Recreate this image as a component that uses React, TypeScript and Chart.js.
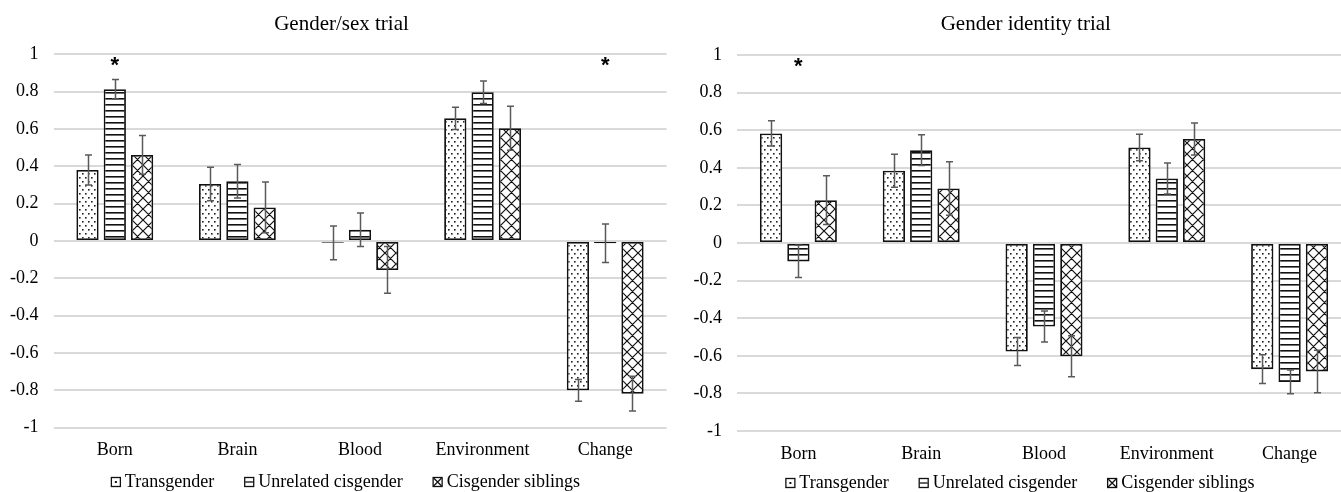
import React, { useEffect, useRef } from 'react';
import { Chart, registerables } from 'chart.js';

Chart.register(...registerables);

// ---------- data ----------
const categories = ['Born', 'Brain', 'Blood', 'Environment', 'Change'];
const seriesNames = ['Transgender', 'Unrelated cisgender', 'Cisgender siblings'];

const sexTitle = 'Gender/sex trial';
const sexTransgender = [0.38, 0.305, -0.01, 0.657, -0.8];
const sexTransgenderErr = [0.08, 0.09, 0.09, 0.06, 0.058];
const sexUnrelated = [0.813, 0.32, 0.06, 0.797, -0.012];
const sexUnrelatedErr = [0.052, 0.09, 0.09, 0.06, 0.103];
const sexSiblings = [0.461, 0.18, -0.155, 0.604, -0.818];
const sexSiblingsErr = [0.104, 0.136, 0.125, 0.118, 0.093];
const sexStars = [1, 0, 0, 0, 1]; // significance marker above "Unrelated cisgender"

const idTitle = 'Gender identity trial';
const idTransgender = [0.583, 0.384, -0.577, 0.508, -0.671];
const idTransgenderErr = [0.067, 0.088, 0.074, 0.07, 0.077];
const idUnrelated = [-0.098, 0.494, -0.444, 0.343, -0.739];
const idUnrelatedErr = [0.086, 0.082, 0.082, 0.083, 0.063];
const idSiblings = [0.228, 0.29, -0.603, 0.553, -0.683];
const idSiblingsErr = [0.13, 0.142, 0.109, 0.085, 0.113];
const idStars = [1, 0, 0, 0, 0];

const yMin = -1;
const yMax = 1;
const yStep = 0.2;
const starLevel = 0.93;

// ---------- styling helpers ----------
const FONT = '"Liberation Serif", "Times New Roman", serif';

function makePattern(ctx: CanvasRenderingContext2D, kind: number): CanvasPattern {
  const t = document.createElement('canvas');
  const g = t.getContext('2d')!;
  if (kind === 0) {
    t.width = 6;
    t.height = 8;
    g.fillStyle = '#fff';
    g.fillRect(0, 0, 6, 8);
    g.fillStyle = '#222';
    g.fillRect(1, 1, 1.6, 1.6);
    g.fillRect(4, 5, 1.6, 1.6);
  } else if (kind === 1) {
    t.width = 6;
    t.height = 6;
    g.fillStyle = '#fff';
    g.fillRect(0, 0, 6, 6);
    g.fillStyle = '#111';
    g.fillRect(0, 2, 6, 1.6);
  } else {
    const s = 11;
    t.width = s;
    t.height = s;
    g.fillStyle = '#fff';
    g.fillRect(0, 0, s, s);
    g.strokeStyle = '#111';
    g.lineWidth = 1.2;
    g.beginPath();
    for (const o of [-s, 0, s]) {
      g.moveTo(o - 2, -2);
      g.lineTo(o + s + 2, s + 2);
      g.moveTo(o - 2, s + 2);
      g.lineTo(o + s + 2, -2);
    }
    g.stroke();
  }
  return ctx.createPattern(t, 'repeat')!;
}

const errorBarsPlugin = {
  id: 'errorBars',
  afterDatasetsDraw(chart: any) {
    const ctx = chart.ctx as CanvasRenderingContext2D;
    const y = chart.scales.y;
    ctx.save();
    ctx.strokeStyle = '#5a5a5a';
    ctx.lineWidth = 1.5;
    chart.data.datasets.forEach((ds: any, i: number) => {
      const meta = chart.getDatasetMeta(i);
      meta.data.forEach((bar: any, j: number) => {
        const v = ds.data[j];
        const e = ds.errors[j];
        const y1 = y.getPixelForValue(v + e);
        const y2 = y.getPixelForValue(v - e);
        const x = Math.round(bar.x) + 0.5;
        ctx.beginPath();
        ctx.moveTo(x, y1);
        ctx.lineTo(x, y2);
        ctx.moveTo(x - 3.5, y1);
        ctx.lineTo(x + 3.5, y1);
        ctx.moveTo(x - 3.5, y2);
        ctx.lineTo(x + 3.5, y2);
        ctx.stroke();
      });
    });
    ctx.restore();
  },
};

function drawLegendIcon(ctx: CanvasRenderingContext2D, kind: number, x: number, yc: number) {
  const s = 10;
  const top = yc - s / 2;
  ctx.save();
  ctx.fillStyle = '#fff';
  ctx.fillRect(x, top, s, s);
  ctx.strokeStyle = '#111';
  ctx.lineWidth = 1.3;
  ctx.strokeRect(x + 0.5, top + 0.5, s - 1, s - 1);
  ctx.beginPath();
  if (kind === 0) {
    ctx.fillStyle = '#111';
    ctx.fillRect(x + 4, top + 4, 2, 2);
  } else if (kind === 1) {
    ctx.moveTo(x + 1, top + 5);
    ctx.lineTo(x + s - 1, top + 5);
  } else {
    ctx.moveTo(x + 1, top + 1);
    ctx.lineTo(x + s - 1, top + s - 1);
    ctx.moveTo(x + s - 1, top + 1);
    ctx.lineTo(x + 1, top + s - 1);
  }
  ctx.stroke();
  ctx.restore();
}

const decorPlugin = {
  id: 'decor',
  afterDraw(chart: any) {
    const opts = chart.options.plugins.decor;
    const ctx = chart.ctx as CanvasRenderingContext2D;
    ctx.save();
    // title
    ctx.fillStyle = '#000';
    ctx.font = `21px ${FONT}`;
    ctx.textAlign = 'center';
    ctx.textBaseline = 'middle';
    ctx.fillText(opts.title, opts.titleX, opts.titleY);

    // stars
    ctx.font = `bold 22px "Liberation Sans", Arial, sans-serif`;
    const m = ctx.measureText('*');
    const meta = chart.getDatasetMeta(1);
    const ys = chart.scales.y.getPixelForValue(starLevel);
    ctx.textBaseline = 'alphabetic';
    opts.stars.forEach((flag: number, j: number) => {
      if (!flag) return;
      const bar = meta.data[j];
      const base = ys + (m.actualBoundingBoxAscent - m.actualBoundingBoxDescent) / 2;
      ctx.fillText('*', bar.x, base);
    });

    // legend
    ctx.font = `18px ${FONT}`;
    ctx.textAlign = 'left';
    ctx.textBaseline = 'middle';
    const iconW = 10;
    const iconGap = 4;
    const itemGap = 30;
    const widths = seriesNames.map((n) => ctx.measureText(n).width);
    const total =
      widths.reduce((a, w) => a + iconW + iconGap + w, 0) + itemGap * (seriesNames.length - 1);
    let x = opts.legendX - total / 2;
    seriesNames.forEach((n, i) => {
      drawLegendIcon(ctx, i, x, opts.legendY);
      ctx.fillStyle = '#000';
      ctx.fillText(n, x + iconW + iconGap, opts.legendY);
      x += iconW + iconGap + widths[i] + itemGap;
    });
    ctx.restore();
  },
};

interface PanelProps {
  title: string;
  values: number[][];
  errors: number[][];
  stars: number[];
  width: number;
  yAxisWidth: number;
  padTop: number;
  padRight: number;
  xAxisHeight: number;
  titleX: number;
  legendX: number;
  legendY: number;
  left: number;
}

function Panel(p: PanelProps) {
  const ref = useRef<HTMLCanvasElement>(null);
  useEffect(() => {
    const canvas = ref.current!;
    const ctx = canvas.getContext('2d')!;
    const patterns = [0, 1, 2].map((k) => makePattern(ctx, k));
    const chart = new Chart(canvas, {
      type: 'bar',
      data: {
        labels: categories,
        datasets: seriesNames.map((name, i) => ({
          label: name,
          data: p.values[i],
          errors: p.errors[i],
          backgroundColor: patterns[i],
          borderColor: '#111',
          borderWidth: 1.8,
          borderSkipped: false,
          categoryPercentage: 0.668,
          barPercentage: 0.815,
        })) as any,
      },
      options: {
        responsive: false,
        animation: false,
        devicePixelRatio: 1,
        layout: { padding: { top: p.padTop, right: p.padRight, left: 0, bottom: 0 } },
        plugins: {
          legend: { display: false },
          title: { display: false },
          tooltip: { enabled: false },
          decor: {
            title: p.title,
            titleX: p.titleX,
            titleY: 24,
            legendX: p.legendX,
            legendY: p.legendY,
            stars: p.stars,
          },
        } as any,
        scales: {
          x: {
            grid: { display: false },
            border: { display: false },
            ticks: {
              color: '#000',
              font: { family: FONT, size: 18 },
              padding: 4,
              maxRotation: 0,
              autoSkip: false,
            },
            afterFit: (s: any) => {
              s.height = p.xAxisHeight;
            },
          },
          y: {
            min: yMin,
            max: yMax,
            grid: { color: '#d9d9d9', lineWidth: 2, drawTicks: false },
            border: { display: false },
            ticks: {
              stepSize: yStep,
              color: '#000',
              font: { family: FONT, size: 18 },
              padding: 15,
              callback: (v: any) => String(Math.round(Number(v) * 10) / 10),
            },
            afterFit: (s: any) => {
              s.width = p.yAxisWidth;
            },
          },
        },
      },
      plugins: [errorBarsPlugin, decorPlugin],
    });
    return () => chart.destroy();
  }, []);
  return (
    <canvas
      ref={ref}
      width={p.width}
      height={492}
      style={{ position: 'absolute', left: p.left, top: 0, width: p.width, height: 492 }}
    />
  );
}

export default function App() {
  return (
    <div
      style={{
        position: 'absolute',
        left: 0,
        top: 0,
        width: 1341,
        height: 492,
        overflow: 'hidden',
        background: '#fff',
      }}
    >
      <Panel
        title={sexTitle}
        values={[sexTransgender, sexUnrelated, sexSiblings]}
        errors={[sexTransgenderErr, sexUnrelatedErr, sexSiblingsErr]}
        stars={sexStars}
        left={0}
        width={670}
        yAxisWidth={53.5}
        padTop={54.3}
        padRight={3.5}
        xAxisHeight={64.3}
        titleX={341.5}
        legendX={345.5}
        legendY={482}
      />
      <Panel
        title={idTitle}
        values={[idTransgender, idUnrelated, idSiblings]}
        errors={[idTransgenderErr, idUnrelatedErr, idSiblingsErr]}
        stars={idStars}
        left={670}
        width={690}
        yAxisWidth={67}
        padTop={55}
        padRight={9}
        xAxisHeight={61}
        titleX={355.8}
        legendX={350}
        legendY={483}
      />
    </div>
  );
}
